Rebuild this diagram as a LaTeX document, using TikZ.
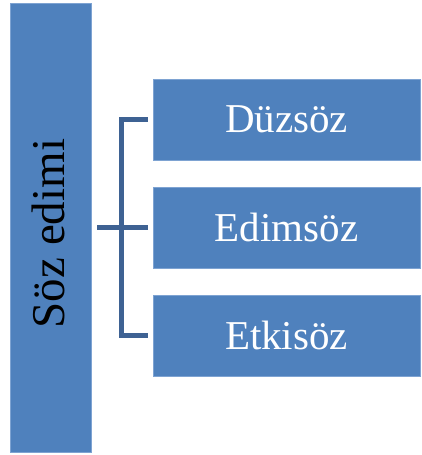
\documentclass[tikz,border=0pt]{standalone}
\usepackage{fontspec}
\setmainfont{Liberation Serif}
\definecolor{kutumavi}{HTML}{4F81BD}
\definecolor{kenar}{HTML}{7EA3D2}
\definecolor{baglac}{HTML}{3E6293}
\begin{document}
\begin{tikzpicture}[x=1pt, y=1pt,
	kutu/.style={rectangle, fill=kutumavi, draw=kenar, line width=0.6pt, minimum width=267pt, minimum height=81pt, inner sep=0pt, text=white, font=\fontsize{41}{41}\selectfont},
	ana/.style={rectangle, fill=kutumavi, draw=kenar, line width=0.6pt, minimum width=81pt, minimum height=449pt, inner sep=0pt},
	cizgi/.style={baglac, line width=4.5pt}]
	\useasboundingbox (0,0) rectangle (422,455);
	% Sol taraftaki uzun kutu
	\node[ana] (soz) at (50.5,227.5) {};
	\node[rotate=90, font=\fontsize{47}{47}\selectfont] (sozyazi) at ([xshift=-2pt,yshift=-6pt]soz.center) {Söz edimi};
	% Sağdaki üç kutu
	\node[kutu] (duz) at (286.5,335.5) {Düzsöz};
	\node[kutu] (edim) at (286.5,227.5) {Edimsöz};
	\node[kutu] (etki) at (286.5,119.5) {Etkisöz};
	% Köşeli ayraç
	\draw[cizgi] ([xshift=-5pt]duz.west) -- ([xshift=-31pt]duz.west) -- ([xshift=-31pt]etki.west) -- ([xshift=-5pt]etki.west);
	\draw[cizgi] ([xshift=6pt]soz.east) -- ([xshift=-5pt]edim.west);
\end{tikzpicture}
\end{document}
